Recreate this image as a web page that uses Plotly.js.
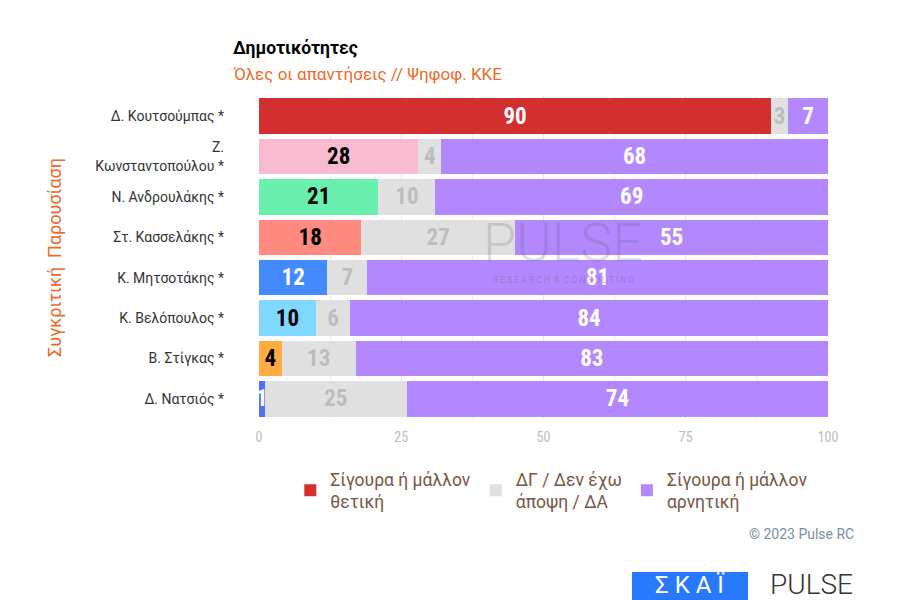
<!DOCTYPE html>
<html><head><meta charset="utf-8">
<script src="https://cdn.plot.ly/plotly-3.0.1.min.js"></script>
<style>html,body{margin:0;padding:0;background:#fff}#chart{width:900px;height:600px}</style>
</head><body><div id="chart"></div>
<script>
const candidates = ['Δ. Κουτσούμπας *','Ζ.<br>Κωνσταντοπούλου *','Ν. Ανδρουλάκης *','Στ. Κασσελάκης *','Κ. Μητσοτάκης *','Κ. Βελόπουλος *','Β. Στίγκας *','Δ. Νατσιός *'];
const positive = [90,28,21,18,12,10,4,1];
const neutral = [3,4,10,27,7,6,13,25];
const negative = [7,68,69,55,81,84,83,74];
const seriesNames = ['Σίγουρα ή μάλλον<br>θετική','ΔΓ / Δεν έχω<br>άποψη / ΔΑ','Σίγουρα ή μάλλον<br>αρνητική'];
const positiveColors = ['#d32f2f','#f8bbd0','#69f0ae','#ff8a80','#448aff','#80d8ff','#ffab40','#536dfe'];
const positiveTextColors = ['#ffffff','#000000','#000000','#000000','#ffffff','#000000','#000000','#ffffff'];
const xTicks = [0,25,50,75,100];

const labelFont = 'Roboto Condensed, DejaVu Sans Condensed, Liberation Sans Narrow, Roboto, sans-serif';
const common = {type:'bar', orientation:'h', y:candidates, textposition:'inside', insidetextanchor:'middle',
  constraintext:'none', texttemplate:'%{x}', hoverinfo:'skip', cliponaxis:true};

const traces = [
  Object.assign({}, common, {name:seriesNames[0], x:positive,
    marker:{color:positiveColors, line:{width:0}},
    textfont:{family:labelFont, size:23, weight:700, color:positiveTextColors}}),
  Object.assign({}, common, {name:seriesNames[1], x:neutral,
    marker:{color:'#e0e0e0', line:{width:0}},
    textfont:{family:labelFont, size:23, weight:700, color:'#bdbdbd'}}),
  Object.assign({}, common, {name:seriesNames[2], x:negative,
    marker:{color:'#b388ff', line:{width:0}},
    textfont:{family:labelFont, size:23, weight:700, color:'#ffffff'}})
];

const px = v => (v-259)/569;
const py = v => (419-v)/323;

const layout = {
  width:900, height:600, barmode:'stack', bargap:0.12,
  paper_bgcolor:'#ffffff', plot_bgcolor:'#ffffff',
  margin:{l:259, r:72, t:96, b:181},
  font:{family:'Roboto, sans-serif', color:'#333'},
  xaxis:{range:[0,100], tickvals:xTicks, ticktext:xTicks.map(String), showgrid:true, gridcolor:'#e6e6e6', gridwidth:1,
    minor:{dtick:12.5, tick0:0, showgrid:true, gridcolor:'#eeeeee', gridwidth:1},
    zeroline:false, showline:false, ticks:'', ticklabelstandoff:8,
    tickfont:{size:14, color:'#bdbdbd', family:labelFont}, fixedrange:true},
  yaxis:{autorange:'reversed', ticks:'', showgrid:false, zeroline:false, ticklabelstandoff:34,
    tickfont:{size:14, color:'#333', family:'Roboto, sans-serif'},
    title:{text:'Συγκριτική  Παρουσίαση', standoff:28, font:{size:18, color:'#ee6a2a', family:'Roboto, sans-serif'}}},
  legend:{orientation:'h', x:0.055, xanchor:'left', y:-0.13, yanchor:'top', traceorder:'normal',
    font:{size:17.5, color:'#795548', family:'Roboto, sans-serif'}, itemwidth:30},
  showlegend:true,
  annotations:[
    {text:'<b>Δημοτικότητες</b>', xref:'paper', yref:'paper', x:px(231), xanchor:'left', y:py(48), yanchor:'middle', showarrow:false,
      font:{size:17.5, color:'#000', family:'Roboto, sans-serif'}},
    {text:'Όλες οι απαντήσεις // Ψηφοφ. ΚΚΕ', xref:'paper', yref:'paper', x:px(231), xanchor:'left', y:py(74), yanchor:'middle', showarrow:false,
      font:{size:17, color:'#ee6a2a', family:'Roboto, sans-serif'}},
    {text:'PULSE', xref:'paper', yref:'paper', x:px(563), xanchor:'center', y:py(242), showarrow:false,
      font:{size:54, color:'rgba(90,90,110,0.2)', family:'Roboto, sans-serif', weight:300}},
    {text:'R E S E A R C H  &  C O N S U L T I N G', xref:'paper', yref:'paper', x:px(563), xanchor:'center', y:py(280), showarrow:false,
      font:{size:8.5, color:'rgba(90,90,110,0.35)', family:'Roboto, sans-serif'}},
    {text:'© 2023 Pulse RC', xref:'paper', yref:'paper', x:px(856), xanchor:'right', y:py(544), showarrow:false,
      font:{size:14, color:'#78909c', family:'Roboto, sans-serif'}},
    {text:'Σ Κ Α Ϊ', xref:'paper', yref:'paper', x:px(690), xanchor:'center', y:py(585), yanchor:'middle', showarrow:false,
      font:{size:24, color:'#ffffff', family:'Roboto, sans-serif'}},
    {text:'PULSE', xref:'paper', yref:'paper', x:px(768), xanchor:'left', y:py(584), yanchor:'middle', showarrow:false,
      font:{size:28, color:'#333', family:'Roboto, sans-serif', weight:300}}
  ],
  shapes:[
    {type:'rect', xref:'paper', yref:'paper', x0:px(632), x1:px(748), y0:py(572), y1:py(610),
      fillcolor:'#2979ff', line:{width:0}, layer:'below'}
  ]
};

Plotly.newPlot('chart', traces, layout, {staticPlot:true, displayModeBar:false});
</script></body></html>
